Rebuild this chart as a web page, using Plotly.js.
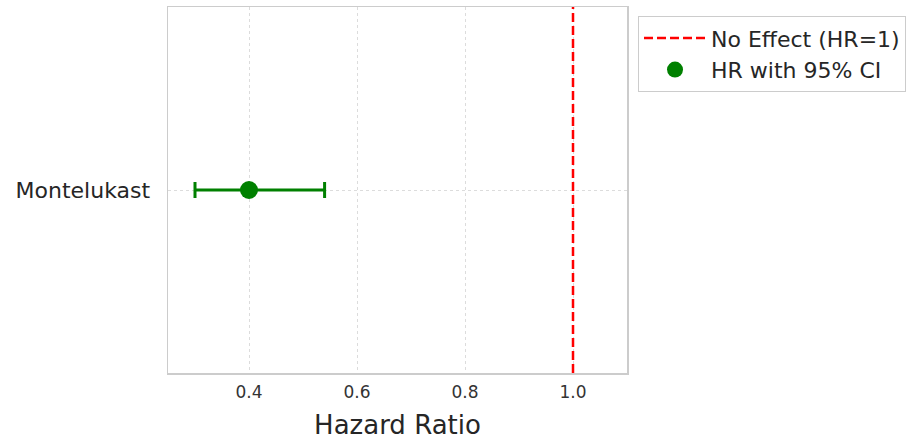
<!DOCTYPE html>
<html>
<head>
<meta charset="utf-8">
<script src="https://cdn.plot.ly/plotly-3.0.1.min.js"></script>
<style>html,body{margin:0;padding:0;background:#fff;}#chart{width:921px;height:440px;}</style>
</head>
<body>
<div id="chart"></div>
<script>
const drugs = ['Montelukast'];
const hr = [0.40];
const ciLower = [0.30];
const ciUpper = [0.54];
const refValue = 1.0;
const xTicks = [0.4, 0.6, 0.8, 1.0];
const xTickLabels = ['0.4', '0.6', '0.8', '1.0'];

const yPos = drugs.map((d, i) => i);

const traces = [
  {
    type: 'scatter', mode: 'lines',
    x: [refValue, refValue], y: [-0.5, 0.5],
    line: {color: 'red', width: 2.5, dash: '9px,4px'},
    name: 'No Effect (HR=1)',
    hoverinfo: 'skip'
  },
  {
    type: 'scatter', mode: 'markers',
    x: hr, y: yPos,
    marker: {color: 'green', size: 18},
    error_x: {
      type: 'data', symmetric: false,
      array: hr.map((v, i) => ciUpper[i] - v),
      arrayminus: hr.map((v, i) => v - ciLower[i]),
      color: 'green', thickness: 3, width: 8
    },
    name: 'HR with 95% CI'
  }
];

const layout = {
  width: 921, height: 440,
  margin: {l: 168, r: 294, t: 7, b: 67},
  paper_bgcolor: '#fff', plot_bgcolor: '#fff',
  font: {family: 'DejaVu Sans, sans-serif', color: '#262626'},
  showlegend: true,
  legend: {
    x: 1.024, y: 0.975, xanchor: 'left', yanchor: 'top',
    bordercolor: '#cccccc', borderwidth: 1,
    font: {size: 22, color: '#262626'},
    bgcolor: '#fff', tracegroupgap: 4,
    itemwidth: 62
  },
  xaxis: {
    range: [0.25, 1.1],
    tickvals: xTicks, ticktext: xTickLabels,
    tickfont: {size: 17, color: '#333'},
    showgrid: true, gridcolor: '#dcdcdc', griddash: 'dot', gridwidth: 1,
    zeroline: false, ticks: '', ticklen: 0, ticklabelstandoff: 3,
    showline: true, linecolor: '#cccccc', linewidth: 1.5, mirror: true,
    title: {text: 'Hazard Ratio', font: {size: 26, color: '#262626'}, standoff: 15}
  },
  yaxis: {
    range: [-0.5, 0.5],
    tickvals: yPos, ticktext: drugs,
    tickfont: {size: 22, color: '#262626'},
    showgrid: true, gridcolor: '#dcdcdc', griddash: 'dot', gridwidth: 1,
    zeroline: false, ticks: '', ticklen: 0, ticklabelstandoff: 12,
    showline: true, linecolor: '#cccccc', linewidth: 1.5, mirror: true
  }
};

Plotly.newPlot('chart', traces, layout, {displayModeBar: false, staticPlot: true});
</script>
</body>
</html>
